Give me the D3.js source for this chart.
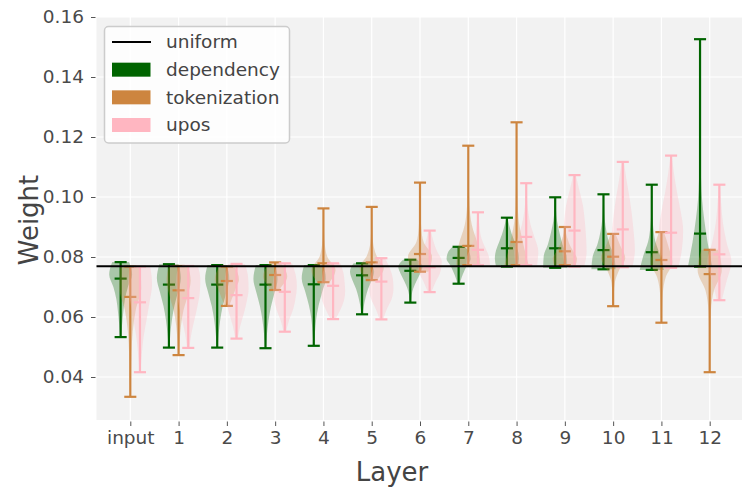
<!DOCTYPE html>
<html>
<head>
<meta charset="utf-8">
<script src="https://cdn.jsdelivr.net/npm/d3@7"></script>
<style>
  html, body { margin: 0; padding: 0; background: #ffffff; }
  svg { display: block; font-family: "DejaVu Sans", sans-serif; }
</style>
</head>
<body>
<svg id="chart" width="742" height="490"></svg>
<script>
// Layers on the x axis
const layers = ["input", "1", "2", "3", "4", "5", "6", "7", "8", "9", "10", "11", "12"];
const yTicks = [0.04, 0.06, 0.08, 0.10, 0.12, 0.14, 0.16];
const uniformWeight = 1 / 13;

// dependency: min / mean / max per layer
const depMin  = [0.0533, 0.0498, 0.0498, 0.0496, 0.0504, 0.0609, 0.0648, 0.0711, 0.0768, 0.0764, 0.0759, 0.0757, 0.0768];
const depMean = [0.0728, 0.0708, 0.0708, 0.0708, 0.0709, 0.0739, 0.0754, 0.0797, 0.0829, 0.0829, 0.0823, 0.0816, 0.0878];
const depMax  = [0.0783, 0.0776, 0.0773, 0.0773, 0.0773, 0.0779, 0.0791, 0.0834, 0.0931, 0.0999, 0.1009, 0.1041, 0.1526];

// tokenization
const tokMin  = [0.0334, 0.0473, 0.0637, 0.0690, 0.0716, 0.0723, 0.0751, 0.0773, 0.0773, 0.0773, 0.0636, 0.0581, 0.0416];
const tokMean = [0.0667, 0.0689, 0.0720, 0.0740, 0.0779, 0.0782, 0.0810, 0.0837, 0.0850, 0.0819, 0.0801, 0.0790, 0.0743];
const tokMax  = [0.0768, 0.0770, 0.0768, 0.0782, 0.0962, 0.0967, 0.1048, 0.1171, 0.1249, 0.0900, 0.0877, 0.0883, 0.0824];

// upos
const uposMin  = [0.0416, 0.0497, 0.0528, 0.0551, 0.0593, 0.0592, 0.0683, 0.0773, 0.0773, 0.0768, 0.0766, 0.0764, 0.0656];
const uposMean = [0.0649, 0.0663, 0.0673, 0.0684, 0.0704, 0.0718, 0.0766, 0.0824, 0.0867, 0.0888, 0.0892, 0.0881, 0.0809];
const uposMax  = [0.0768, 0.0770, 0.0777, 0.0779, 0.0779, 0.0796, 0.0888, 0.0949, 0.1046, 0.1073, 0.1117, 0.1138, 0.1041];

// Relative density profiles, sampled evenly from min (first) to max (last)
const depShape = [
  [0.05, 0.12, 0.22, 0.35, 0.60, 0.95, 0.70],
  [0.04, 0.12, 0.25, 0.45, 0.75, 1.00, 0.80],
  [0.04, 0.12, 0.25, 0.45, 0.75, 1.00, 0.80],
  [0.04, 0.12, 0.25, 0.45, 0.75, 1.00, 0.80],
  [0.03, 0.10, 0.20, 0.40, 0.70, 1.00, 0.80],
  [0.05, 0.15, 0.30, 0.50, 0.80, 1.00, 0.70],
  [0.05, 0.10, 0.25, 0.50, 0.80, 1.00, 0.60],
  [0.10, 0.25, 0.45, 0.70, 1.00, 0.90, 0.50],
  [0.90, 1.00, 0.90, 0.65, 0.40, 0.20, 0.05],
  [1.00, 0.95, 0.60, 0.35, 0.15, 0.06, 0.02],
  [1.00, 0.90, 0.50, 0.25, 0.10, 0.05, 0.02],
  [1.00, 0.70, 0.30, 0.12, 0.05, 0.03, 0.02],
  [1.00, 0.45, 0.12, 0.04, 0.02, 0.01, 0.01]
];
const tokShape = [
  [0.03, 0.06, 0.10, 0.20, 0.45, 0.90, 0.85],
  [0.05, 0.10, 0.20, 0.40, 0.75, 1.00, 0.80],
  [0.20, 0.40, 0.60, 0.80, 1.00, 0.90, 0.60],
  [0.30, 0.60, 0.90, 1.00, 0.90, 0.70, 0.40],
  [0.50, 1.00, 0.35, 0.12, 0.05, 0.03, 0.02],
  [0.40, 1.00, 0.40, 0.12, 0.05, 0.03, 0.02],
  [0.70, 1.00, 0.30, 0.10, 0.05, 0.03, 0.02],
  [1.00, 0.80, 0.30, 0.10, 0.05, 0.03, 0.02],
  [1.00, 0.50, 0.15, 0.06, 0.03, 0.02, 0.02],
  [0.90, 1.00, 0.75, 0.45, 0.25, 0.10, 0.05],
  [0.03, 0.06, 0.15, 0.50, 1.00, 0.60, 0.20],
  [0.03, 0.06, 0.12, 0.35, 0.90, 0.60, 0.20],
  [0.02, 0.03, 0.05, 0.10, 0.35, 1.00, 0.70]
];
const uposShape = [
  [0.05, 0.15, 0.30, 0.55, 0.80, 1.00, 0.85],
  [0.10, 0.25, 0.50, 0.75, 0.95, 1.00, 0.80],
  [0.10, 0.30, 0.60, 0.85, 1.00, 0.95, 0.70],
  [0.10, 0.35, 0.70, 0.90, 1.00, 0.90, 0.60],
  [0.20, 0.60, 0.90, 1.00, 0.95, 0.85, 0.60],
  [0.15, 0.45, 0.85, 1.00, 0.95, 0.70, 0.30],
  [0.15, 0.50, 0.90, 1.00, 0.60, 0.30, 0.10],
  [1.00, 0.90, 0.60, 0.30, 0.15, 0.08, 0.03],
  [0.90, 1.00, 0.70, 0.35, 0.15, 0.05, 0.02],
  [0.80, 1.00, 0.95, 0.85, 0.70, 0.40, 0.10],
  [0.80, 1.00, 0.90, 0.75, 0.55, 0.30, 0.10],
  [0.60, 0.90, 1.00, 0.80, 0.50, 0.25, 0.05],
  [0.20, 0.60, 1.00, 0.60, 0.30, 0.15, 0.05]
];

const seriesNames = ["dependency", "tokenization", "upos"];
const seriesColors = ["#006400", "#cd853f", "#ffb6c1"];
const seriesOffsets = [-0.2, 0, 0.2];

const series = [
  { name: seriesNames[0], min: depMin, mean: depMean, max: depMax, shape: depShape },
  { name: seriesNames[1], min: tokMin, mean: tokMean, max: tokMax, shape: tokShape },
  { name: seriesNames[2], min: uposMin, mean: uposMean, max: uposMax, shape: uposShape }
];

const plot = { left: 96.5, right: 743.5, top: 17, bottom: 420 };
const svg = d3.select("#chart");

const x = d3.scalePoint().domain(layers).range([plot.left, plot.right]).padding(0.7);
const y = d3.scaleLinear().domain([0.025667, 0.16]).range([plot.bottom, plot.top]);
const step = x.step();
const halfWidth = 0.25 * step;   // violin half width
const capHalf = 0.125 * step;    // extrema / mean tick half length

// Background and grid
svg.append("rect")
  .attr("x", plot.left).attr("y", plot.top)
  .attr("width", plot.right - plot.left).attr("height", plot.bottom - plot.top)
  .attr("fill", "#f2f2f2");

const grid = svg.append("g").attr("stroke", "#ffffff").attr("stroke-width", 1.2);
grid.selectAll("line.h").data(yTicks).join("line")
  .attr("x1", plot.left).attr("x2", plot.right)
  .attr("y1", d => y(d)).attr("y2", d => y(d));
grid.selectAll("line.v").data(layers).join("line")
  .attr("x1", d => x(d)).attr("x2", d => x(d))
  .attr("y1", plot.top).attr("y2", plot.bottom);

// Axes
const yAxis = svg.append("g")
  .attr("transform", `translate(${plot.left - 1},0)`)
  .call(d3.axisLeft(y).tickValues(yTicks).tickFormat(d3.format(".2f")).tickSize(4.5).tickPadding(7));
const xAxis = svg.append("g")
  .attr("transform", `translate(0,${plot.bottom + 1.5})`)
  .call(d3.axisBottom(x).tickSize(4.5).tickPadding(5));
[yAxis, xAxis].forEach(g => {
  g.select(".domain").remove();
  g.selectAll(".tick line").attr("stroke", "#555555");
  g.selectAll(".tick text").attr("fill", "#4a4a4a").style("font-size", "18.5px")
    .style("font-family", "'DejaVu Sans', sans-serif");
});

// Violins
const violinArea = d3.area()
  .y(d => y(d.v))
  .x0(d => d.cx - d.w)
  .x1(d => d.cx + d.w)
  .curve(d3.curveMonotoneY);

series.forEach((s, si) => {
  const color = seriesColors[si];
  const g = svg.append("g").attr("class", "series-" + s.name);
  layers.forEach((layer, i) => {
    const cx = x(layer) + seriesOffsets[si] * step;
    const prof = s.shape[i];
    const pts = prof.map((w, k) => ({
      v: s.min[i] + (s.max[i] - s.min[i]) * k / (prof.length - 1),
      w: w * halfWidth,
      cx: cx
    }));
    g.append("path")
      .attr("d", violinArea(pts))
      .attr("fill", color)
      .attr("fill-opacity", 0.3)
      .attr("stroke", "none");

    const lines = g.append("g").attr("stroke", color).attr("stroke-width", 2.2);
    lines.append("line")
      .attr("x1", cx).attr("x2", cx)
      .attr("y1", y(s.min[i])).attr("y2", y(s.max[i]));
    [s.min[i], s.mean[i], s.max[i]].forEach(v => {
      lines.append("line")
        .attr("x1", cx - capHalf).attr("x2", cx + capHalf)
        .attr("y1", y(v)).attr("y2", y(v));
    });
  });
});

// Uniform reference line
svg.append("line")
  .attr("x1", plot.left).attr("x2", plot.right)
  .attr("y1", y(uniformWeight)).attr("y2", y(uniformWeight))
  .attr("stroke", "#000000").attr("stroke-width", 2.2);

// Axis titles
svg.append("text")
  .attr("x", 392).attr("y", 481)
  .attr("text-anchor", "middle")
  .attr("fill", "#444444")
  .style("font-size", "26px")
  .text("Layer");
svg.append("text")
  .attr("transform", "translate(38,220) rotate(-90)")
  .attr("text-anchor", "middle")
  .attr("fill", "#444444")
  .style("font-size", "26px")
  .text("Weight");

// Legend
const legend = svg.append("g");
legend.append("rect")
  .attr("x", 104.5).attr("y", 26.5).attr("width", 185).attr("height", 116.5)
  .attr("rx", 4).attr("fill", "#ffffff").attr("fill-opacity", 0.85)
  .attr("stroke", "#cccccc").attr("stroke-width", 1.5);
const legendRows = [
  { label: "uniform", kind: "line", color: "#000000" },
  ...seriesNames.map((n, i) => ({ label: n, kind: "patch", color: seriesColors[i] }))
];
const rowY = d3.scaleLinear().domain([0, 3]).range([42, 125]);
legendRows.forEach((r, i) => {
  const cy = rowY(i);
  if (r.kind === "line") {
    legend.append("line")
      .attr("x1", 112).attr("x2", 151).attr("y1", cy).attr("y2", cy)
      .attr("stroke", r.color).attr("stroke-width", 2.2);
  } else {
    legend.append("rect")
      .attr("x", 112).attr("y", cy - 7).attr("width", 38.5).attr("height", 14)
      .attr("fill", r.color);
  }
  legend.append("text")
    .attr("x", 166).attr("y", cy).attr("dy", "0.35em")
    .attr("fill", "#444444")
    .style("font-size", "18.5px")
    .text(r.label);
});
</script>
</body>
</html>
